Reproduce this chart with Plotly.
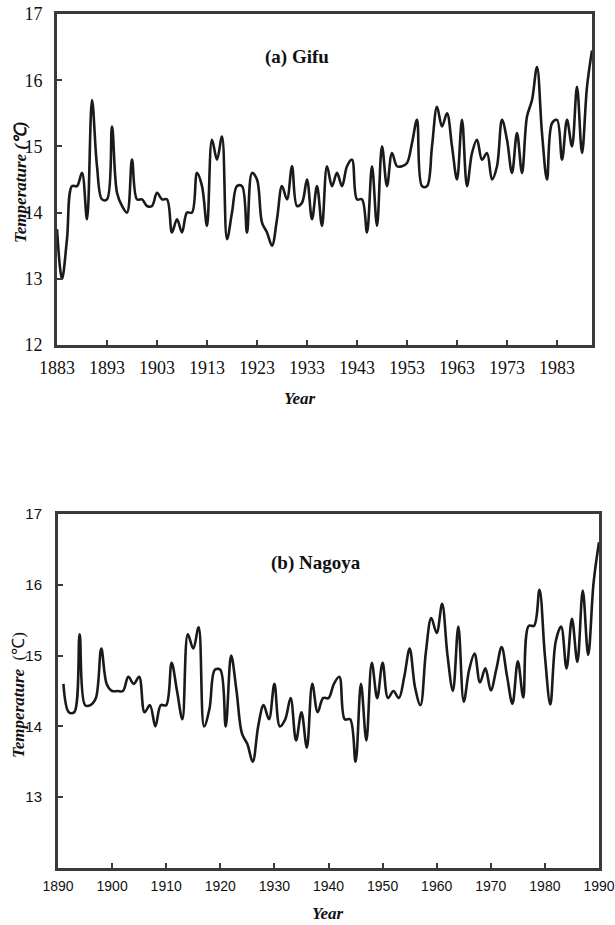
import plotly.graph_objects as go

W, H = 615, 925

gifu_years = list(range(1883, 1991))
gifu_temp = [
    13.75, 13.0, 13.6, 14.4, 14.4, 14.6, 13.9, 15.7, 14.7, 14.2,   # 1883-1892
    14.2, 15.3, 14.3, 14.1, 14.0, 14.8, 14.2, 14.2, 14.1, 14.1,    # 1893-1902
    14.3, 14.2, 14.2, 13.7, 13.9, 13.7, 14.0, 14.0, 14.6, 14.4,    # 1903-1912
    13.8, 15.1, 14.8, 15.15, 13.6, 14.0, 14.4, 14.4, 13.7, 14.6,   # 1913-1922
    14.5, 13.85, 13.7, 13.5, 13.9, 14.4, 14.2, 14.7, 14.1, 14.15,  # 1923-1932
    14.5, 13.9, 14.4, 13.8, 14.7, 14.4, 14.6, 14.4, 14.7, 14.8,    # 1933-1942
    14.2, 14.2, 13.7, 14.7, 13.8, 15.0, 14.4, 14.9, 14.7, 14.7,    # 1943-1952
    14.75, 15.05, 15.4, 14.4, 14.4, 15.0, 15.6, 15.3, 15.5, 15.0,  # 1953-1962
    14.5, 15.4, 14.4, 14.9, 15.1, 14.8, 14.9, 14.5, 14.7, 15.4,    # 1963-1972
    15.1, 14.6, 15.2, 14.6, 15.45, 15.7, 16.2, 15.2, 14.5, 15.35,  # 1973-1982
    15.4, 14.8, 15.4, 15.0, 15.9, 14.9, 15.9, 16.45,               # 1983-1990
]

nagoya_years = list(range(1891, 1991))
nagoya_temp = [
    14.6, 14.2, 14.2, 15.3, 14.3, 14.3, 14.4, 15.1, 14.6, 14.5,    # 1891-1900
    14.5, 14.5, 14.7, 14.6, 14.7, 14.2, 14.3, 14.0, 14.3, 14.3,    # 1901-1910
    14.9, 14.5, 14.1, 15.3, 15.1, 15.4, 14.0, 14.25, 14.8, 14.8,   # 1911-1920
    14.0, 15.0, 14.5, 13.9, 13.75, 13.5, 14.0, 14.3, 14.1, 14.6,   # 1921-1930
    14.0, 14.1, 14.4, 13.8, 14.2, 13.7, 14.6, 14.2, 14.4, 14.4,    # 1931-1940
    14.6, 14.7, 14.1, 14.1, 13.5, 14.6, 13.8, 14.9, 14.4, 14.9,    # 1941-1950
    14.4, 14.5, 14.4, 14.7, 15.1, 14.55, 14.3, 15.05, 15.53, 15.32,# 1951-1960
    15.73, 15.0, 14.5, 15.41, 14.35, 14.8, 15.03, 14.62, 14.82, 14.51, # 1961-1970
    14.8, 15.12, 14.71, 14.32, 14.92, 14.41, 15.42, 15.42, 15.93, 15.0, # 1971-1980
    14.31, 15.2, 15.41, 14.82, 15.52, 14.91, 15.92, 15.01, 16.03, 16.6, # 1981-1990
]

gifu_xticks = [1883, 1893, 1903, 1913, 1923, 1933, 1943, 1953, 1963, 1973, 1983]
nagoya_xticks = [1890, 1900, 1910, 1920, 1930, 1940, 1950, 1960, 1970, 1980, 1990]
gifu_yticks = [12, 13, 14, 15, 16, 17]
nagoya_yticks = [13, 14, 15, 16, 17]

SERIF = "Liberation Serif, Times New Roman, serif"
SANS = "Liberation Sans, Arial, sans-serif"
LINE = "#1a1a1a"
FRAME = "#3a3a3a"


def px(x):
    return x / W


def py(y):
    return 1 - y / H


fig = go.Figure()
fig.add_trace(go.Scatter(x=gifu_years, y=gifu_temp, mode="lines",
                         line=dict(color=LINE, width=2.6, shape="spline", smoothing=1.0),
                         xaxis="x", yaxis="y", showlegend=False))
fig.add_trace(go.Scatter(x=nagoya_years, y=nagoya_temp, mode="lines",
                         line=dict(color=LINE, width=2.6, shape="spline", smoothing=1.0),
                         xaxis="x2", yaxis="y2", showlegend=False))

axis_common = dict(showline=True, mirror=True, linewidth=3, linecolor=FRAME,
                   ticks="inside", ticklen=5, tickwidth=1.5, tickcolor=FRAME,
                   showgrid=False, zeroline=False, automargin=False,
                   ticklabeloverflow="allow")

fig.update_layout(
    template="none",
    width=W, height=H,
    margin=dict(l=0, r=0, t=0, b=0, pad=0),
    paper_bgcolor="white", plot_bgcolor="white",
    showlegend=False,
    xaxis=dict(domain=[px(57), px(592)], range=[1883, 1990], anchor="y",
               tickvals=gifu_xticks, ticktext=[str(v) for v in gifu_xticks],
               tickfont=dict(family=SERIF, size=18, color="#111"),
               ticklabelstandoff=4, **axis_common),
    yaxis=dict(domain=[py(345), py(14)], range=[12, 17], anchor="x",
               tickvals=gifu_yticks, ticktext=[str(v) for v in gifu_yticks],
               tickfont=dict(family=SERIF, size=18, color="#111"),
               ticklabelstandoff=8, **axis_common),
    xaxis2=dict(domain=[px(58), px(599)], range=[1890, 1990], anchor="y2",
                tickvals=nagoya_xticks, ticktext=[str(v) for v in nagoya_xticks],
                tickfont=dict(family=SANS, size=14, color="#111"),
                ticklabelstandoff=3, **axis_common),
    yaxis2=dict(domain=[py(868), py(514)], range=[12, 17], anchor="x2",
                tickvals=nagoya_yticks, ticktext=[str(v) for v in nagoya_yticks],
                tickfont=dict(family=SANS, size=15, color="#111"),
                ticklabelstandoff=10, **axis_common),
)

ann_font = dict(family=SERIF, size=19, color="#111")
title_font = dict(family=SERIF, size=17, color="#111")
annotations = [
    dict(text="<b>(a) Gifu</b>", x=px(297), y=py(57), font=ann_font),
    dict(text="<b>(b) Nagoya</b>", x=px(316), y=py(563), font=ann_font),
    dict(text="<b><i>Year</i></b>", x=px(300), y=py(398), font=title_font),
    dict(text="<b><i>Year</i></b>", x=px(328), y=py(913), font=title_font),
    dict(text="<b><i>Temperature (℃)</i></b>", x=px(20), y=py(182), font=title_font, textangle=-90),
    dict(text="<b><i>Temperature</i></b>  (℃)", x=px(18), y=py(695), font=title_font, textangle=-90),
]
for a in annotations:
    fig.add_annotation(xref="paper", yref="paper", showarrow=False,
                       xanchor="center", yanchor="middle", **a)

fig.write_html("out.html")
